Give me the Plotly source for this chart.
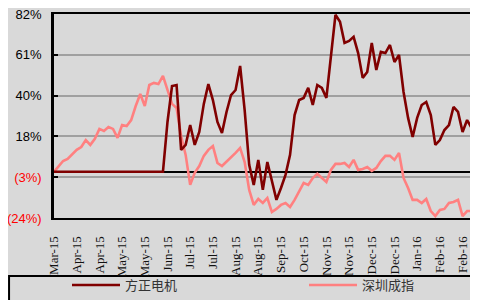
import plotly.graph_objects as go

# Tick labels (one every 5 points)
x_labels = ["Mar-15", "Apr-15", "Apr-15", "May-15", "May-15", "Jun-15", "Jul-15", "Jul-15",
            "Aug-15", "Aug-15", "Sep-15", "Oct-15", "Nov-15", "Nov-15", "Dec-15", "Dec-15",
            "Jan-16", "Feb-16", "Feb-16"]

# 方正电机 cumulative return (%)
fz_values = [0.0] * 25 + [
    25.9, 44.6, 45.1, 11.4, 14.0, 24.3, 14.0, 20.7, 35.3, 45.6,
    37.3, 25.9, 20.2, 31.1, 39.9, 42.5, 55.0, 32.1, 3.6, -6.8,
    6.2, -9.4, 5.1, -5.3, -14.6, -8.4, -1.6, 8.8, 29.5, 37.3,
    38.4, 43.6, 34.7, 45.1, 43.6, 38.4, 60.7, 81.6, 78.0, 67.0,
    68.0, 70.1, 61.7, 48.8, 51.9, 66.9, 52.9, 62.3, 61.7, 65.9,
    57.1, 60.7, 41.5, 28.0, 18.1, 28.0, 34.7, 36.3, 29.5, 14.0,
    16.5, 21.7, 24.3, 33.7, 31.1, 20.7, 26.9, 22.8, 18.6]

# 深圳成指 cumulative return (%)
sz_values = [
    0.0, 3.0, 5.6, 6.7, 8.8, 11.4, 12.9, 16.5, 14.0, 17.1,
    22.3, 21.2, 23.3, 22.3, 17.6, 24.3, 23.8, 26.9, 34.2, 40.4,
    34.2, 45.1, 46.2, 45.6, 49.8, 42.5, 35.3, 33.2, 18.6, 8.8,
    -6.8, -0.5, 3.0, 8.3, 11.4, 13.4, 4.6, 3.0, 5.1, 7.7,
    9.8, 12.4, 5.1, -9.4, -17.2, -14.1, -16.2, -13.6, -20.9, -19.3,
    -17.2, -16.2, -18.3, -14.6, -10.0, -5.8, -6.8, -3.2, -1.0, -3.2,
    -5.3, 1.0, 4.1, 4.1, 4.6, 2.5, 6.2, 1.0, 1.5, 2.5,
    0.5, 2.0, 5.6, 8.3, 8.3, 6.2, 9.8, -3.2, -8.4, -14.6,
    -14.6, -16.2, -14.1, -20.4, -23.0, -19.8, -19.3, -16.2, -15.7, -14.6,
    -23.0, -20.4, -20.4, -21.4]

y_tickvals = [-24, -2.8, 18.4, 39.6, 60.8, 82]
y_ticktext = ["<span style='color:#ff0000'>(24%)</span>",
              "<span style='color:#ff0000'>(3%)</span>",
              "18%", "40%", "61%", "82%"]

x_idx = list(range(len(sz_values)))
x_tickvals = [i * 5 for i in range(len(x_labels))]

legend_font = dict(family="Noto Sans CJK SC", size=13, color="#333333")

# The page body has an 8px margin, so the figure is sized to 470x292
W, H = 470, 292

fig = go.Figure()
fig.add_trace(go.Scatter(x=x_idx, y=sz_values, mode="lines", name="深圳成指",
                         line=dict(color="#ff8080", width=2.6), legend="legend2"))
fig.add_trace(go.Scatter(x=x_idx, y=fz_values, mode="lines", name="方正电机",
                         line=dict(color="#800000", width=2.6), legend="legend"))

fig.update_layout(
    width=W, height=H,
    margin=dict(l=46, r=0, t=6, b=82, autoexpand=False),
    paper_bgcolor="#d9d9d9", plot_bgcolor="#d9d9d9",
    showlegend=True,
    legend=dict(orientation="h", xref="container", yref="container",
                x=59 / W, xanchor="left", y=15 / H, yanchor="middle",
                font=legend_font, bgcolor="rgba(0,0,0,0)", itemwidth=48),
    legend2=dict(orientation="h", xref="container", yref="container",
                 x=296 / W, xanchor="left", y=15 / H, yanchor="middle",
                 font=legend_font, bgcolor="rgba(0,0,0,0)", itemwidth=48),
    xaxis=dict(range=[0, 93.4], tickmode="array", tickvals=x_tickvals, ticktext=x_labels,
               tickangle=-90, tickfont=dict(family="Liberation Serif", size=13, color="#111"),
               showgrid=False, zeroline=False, showline=True, linecolor="black",
               linewidth=2, mirror=True, ticks="", ticklabelstandoff=11, automargin=False,
               ticklabeloverflow="allow"),
    yaxis=dict(range=[-24, 82], tickmode="array", tickvals=y_tickvals, ticktext=y_ticktext,
               tickfont=dict(family="Liberation Sans", size=13, color="#000"),
               showgrid=True, gridcolor="#a0a0a0", gridwidth=2,
               zeroline=True, zerolinecolor="black", zerolinewidth=2,
               showline=True, linecolor="black", linewidth=2.5,
               ticks="inside", ticklen=4, tickwidth=2, tickcolor="black",
               ticklabelstandoff=7, automargin=False, ticklabeloverflow="allow"),
    shapes=[dict(type="rect", xref="paper", yref="paper",
                 x0=-0.106, x1=1.05, y0=-0.284, y1=-0.6,
                 line=dict(color="black", width=2), fillcolor="rgba(0,0,0,0)", layer="below")],
)

fig.write_html("out.html")
